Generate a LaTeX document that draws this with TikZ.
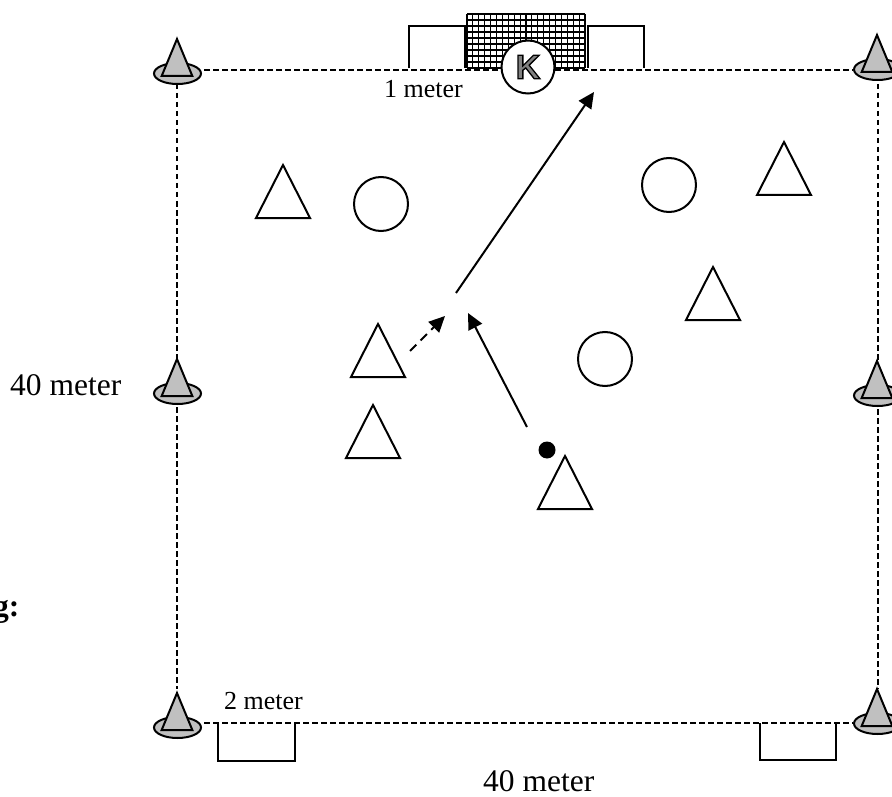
\documentclass[tikz,border=0pt]{standalone}
\usepackage{fontspec}
\setmainfont{Liberation Serif}
\newfontfamily\keeperfont{Liberation Sans}
\usetikzlibrary{arrows.meta,shapes.geometric}
\definecolor{conegray}{HTML}{C0C0C0}
\definecolor{kgray}{HTML}{808080}
\tikzset{
  x=1pt,y=-1pt,
  outline/.style={draw=black,line width=2pt},
  player/.style={outline,line join=miter,shape=isosceles triangle,shape border rotate=90,isosceles triangle apex angle=54,
    minimum height=53pt,minimum width=54pt,inner sep=0pt,outer sep=0pt,anchor=apex,fill=white},
  defender/.style={outline,circle,minimum size=54pt,inner sep=0pt,fill=white},
  ball/.style={circle,fill=black,minimum size=17pt,inner sep=0pt},
  fieldline/.style={draw=black,line width=1.3pt,dash pattern=on 5.5pt off 3.5pt},
  conebase/.style={draw=black,line width=2pt,fill=conegray,ellipse,minimum width=47pt,minimum height=21pt,inner sep=0pt},
  conetop/.style={draw=black,line width=2pt,fill=conegray,line join=miter,shape=isosceles triangle,shape border rotate=90,
    isosceles triangle apex angle=45,minimum height=37pt,minimum width=30pt,inner sep=0pt,outer sep=0pt,anchor=apex},
  run/.style={draw=black,line width=2pt,-{Triangle[length=16pt,width=15pt]}},
  smalllabel/.style={font=\fontsize{26pt}{28pt}\selectfont,anchor=base west,inner sep=0pt},
  biglabel/.style={font=\fontsize{31.5pt}{34pt}\selectfont,anchor=base west,inner sep=0pt},
  goalbox/.style={draw=black,line width=2pt},
  net/.style={draw=black,line width=1.15pt},
}
\begin{document}
\begin{tikzpicture}
\useasboundingbox (0,0) rectangle (892,797);
% field corners
\coordinate (tl) at (177,70);
\coordinate (tr) at (878,70);
\coordinate (bl) at (177,723);
\coordinate (br) at (878,723);
\coordinate (ml) at (177,393);
\coordinate (mr) at (878,395);
% net
\foreach \i in {0,...,20} {\draw[net] ({467+\i*5.9},14) -- ({467+\i*5.9},68);}
\foreach \j in {0,...,9} {\draw[net] (467,{14+\j*6}) -- (585,{14+\j*6});}
% small goals
\draw[goalbox] (409,68) -- (409,26) -- (465,26) -- (465,68);
\draw[goalbox] (588,68) -- (588,26) -- (644,26) -- (644,68);
\draw[goalbox] (218,723) -- (218,761) -- (295,761) -- (295,723);
\draw[goalbox] (760,723) -- (760,760) -- (836,760) -- (836,723);
% field
\draw[fieldline,shorten <=27pt,shorten >=25pt] (tl) -- (tr);
\draw[fieldline,shorten <=27pt,shorten >=25pt] (bl) -- (br);
\draw[fieldline,shorten <=14pt,shorten >=34pt] (tl) -- (ml);
\draw[fieldline,shorten <=14pt,shorten >=34pt] (ml) -- (bl);
\draw[fieldline,shorten <=14pt,shorten >=34pt] (tr) -- (mr);
\draw[fieldline,shorten <=14pt,shorten >=34pt] (mr) -- (br);
% cones
\node[conebase] (c1b) at (177.5,73.5) {};
\node[conetop] (c1t) at (177,39) {};
\node[conebase] (c2b) at (177.5,393.5) {};
\node[conetop] (c2t) at (177,359) {};
\node[conebase] (c3b) at (177.5,727.5) {};
\node[conetop] (c3t) at (177,693) {};
\node[conebase] (c4b) at (877.5,69.5) {};
\node[conetop] (c4t) at (877,35) {};
\node[conebase] (c5b) at (877.5,395.5) {};
\node[conetop] (c5t) at (877,361) {};
\node[conebase] (c6b) at (877.5,723.5) {};
\node[conetop] (c6t) at (877,689) {};
% keeper
\node[outline,circle,minimum size=53pt,inner sep=0pt,fill=white] (keeper) at (528,67)
  {\keeperfont\bfseries\fontsize{34pt}{34pt}\selectfont\color{kgray}\special{pdf:code 0 0 0 RG 1.3 w 2 Tr}K\special{pdf:code 0 Tr}};
% players
\node[player] (p1) at (283,165) {};
\node[player] (p2) at (784,142) {};
\node[player] (p3) at (713,267) {};
\node[player] (p4) at (378,324) {};
\node[player] (p5) at (373,405) {};
\node[player] (p6) at (565,456) {};
% defenders
\node[defender] (d1) at (381,204) {};
\node[defender] (d2) at (669,185) {};
\node[defender] (d3) at (605,359) {};
\node[ball] (b) at (547,450) {};
% runs
\coordinate (shotstart) at (456,293);
\coordinate (shotend) at (594,92);
\coordinate (passend) at (468,313);
\coordinate (passstart) at (527,427);
\coordinate (movestart) at (410,351);
\coordinate (moveend) at (445,316);
\draw[run] (shotstart) -- (shotend);
\draw[run] (passstart) -- (passend);
\draw[run,dash pattern=on 9pt off 6pt] (movestart) -- (moveend);
% labels
\node[smalllabel] (l1) at (384,98) {1 meter};
\node[smalllabel] (l2) at (224,709) {2 meter};
\node[biglabel] (l3) at (10,395) {40 meter};
\node[biglabel] (l4) at (483,791) {40 meter};
\node[biglabel,font=\fontsize{31.5pt}{34pt}\selectfont\bfseries] (l5) at (-7,616) {g:};
\end{tikzpicture}
\end{document}
